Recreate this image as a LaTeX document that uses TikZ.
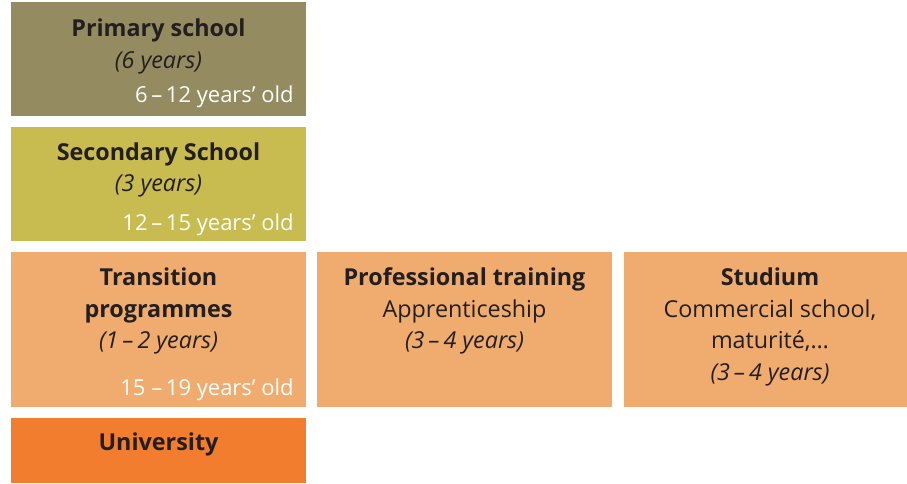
\documentclass[tikz,border=0pt]{standalone}
\usepackage{fontspec}
\setmainfont{Open Sans}
\definecolor{primcol}{HTML}{948B60}
\definecolor{seccol}{HTML}{C8BB50}
\definecolor{trancol}{HTML}{F0AC6E}
\definecolor{unicol}{HTML}{F27D2E}
\definecolor{txtcol}{HTML}{231F20}
\begin{document}
\begin{tikzpicture}[x=0.75pt,y=-0.75pt,
  txt/.style={anchor=base,inner sep=0pt,text=txtcol,font=\fontsize{17.5}{21}\selectfont},
  ttl/.style={txt,font=\fontsize{17.5}{21}\selectfont\bfseries},
  yrs/.style={txt,font=\fontsize{17.5}{21}\selectfont\itshape},
  age/.style={anchor=base east,inner sep=0pt,text=white,font=\fontsize{16.5}{20}\selectfont}]
\useasboundingbox (0,0) rectangle (907,483);
\fill[primcol] (11,2) rectangle (306,116);
\fill[seccol] (11,127) rectangle (306,241);
\fill[trancol] (11,252) rectangle (306,407);
\fill[trancol] (317,252) rectangle (612,407);
\fill[trancol] (624,252) rectangle (907,407);
\fill[unicol] (11,418) rectangle (306,483);
% Primary
\node[ttl] (p1) at (158.5,36.5) {Primary school};
\node[yrs] (p2) at (158.5,68) {(6 years)};
\node[age] (p3) at (294,102) {6\,–\,12 years’ old};
% Secondary
\node[ttl] (s1) at (158.5,160.5) {Secondary School};
\node[yrs] (s2) at (158.5,191.5) {(3 years)};
\node[age] (s3) at (294,230) {12\,–\,15 years’ old};
% Transition
\node[ttl] (t1) at (158.5,285.5) {Transition};
\node[ttl] (t2) at (158.5,317.5) {programmes};
\node[yrs] (t3) at (158.5,348.5) {(1\,–\,2 years)};
\node[age] (t4) at (294,395.5) {15 –\,19 years’ old};
% Professional
\node[ttl] (f1) at (464.5,285.5) {Professional training};
\node[txt] (f2) at (464.5,317.5) {Apprenticeship};
\node[yrs] (f3) at (464.5,348.5) {(3\,–\,4 years)};
% Studium
\node[ttl] (u1) at (770,285.5) {Studium};
\node[txt] (u2) at (770,317.5) {Commercial school,};
\node[txt] (u3) at (770,348.5) {maturité,…};
\node[yrs] (u4) at (770,380) {(3\,–\,4 years)};
% University
\node[ttl] (v1) at (158.5,450) {University};
\end{tikzpicture}
\end{document}
